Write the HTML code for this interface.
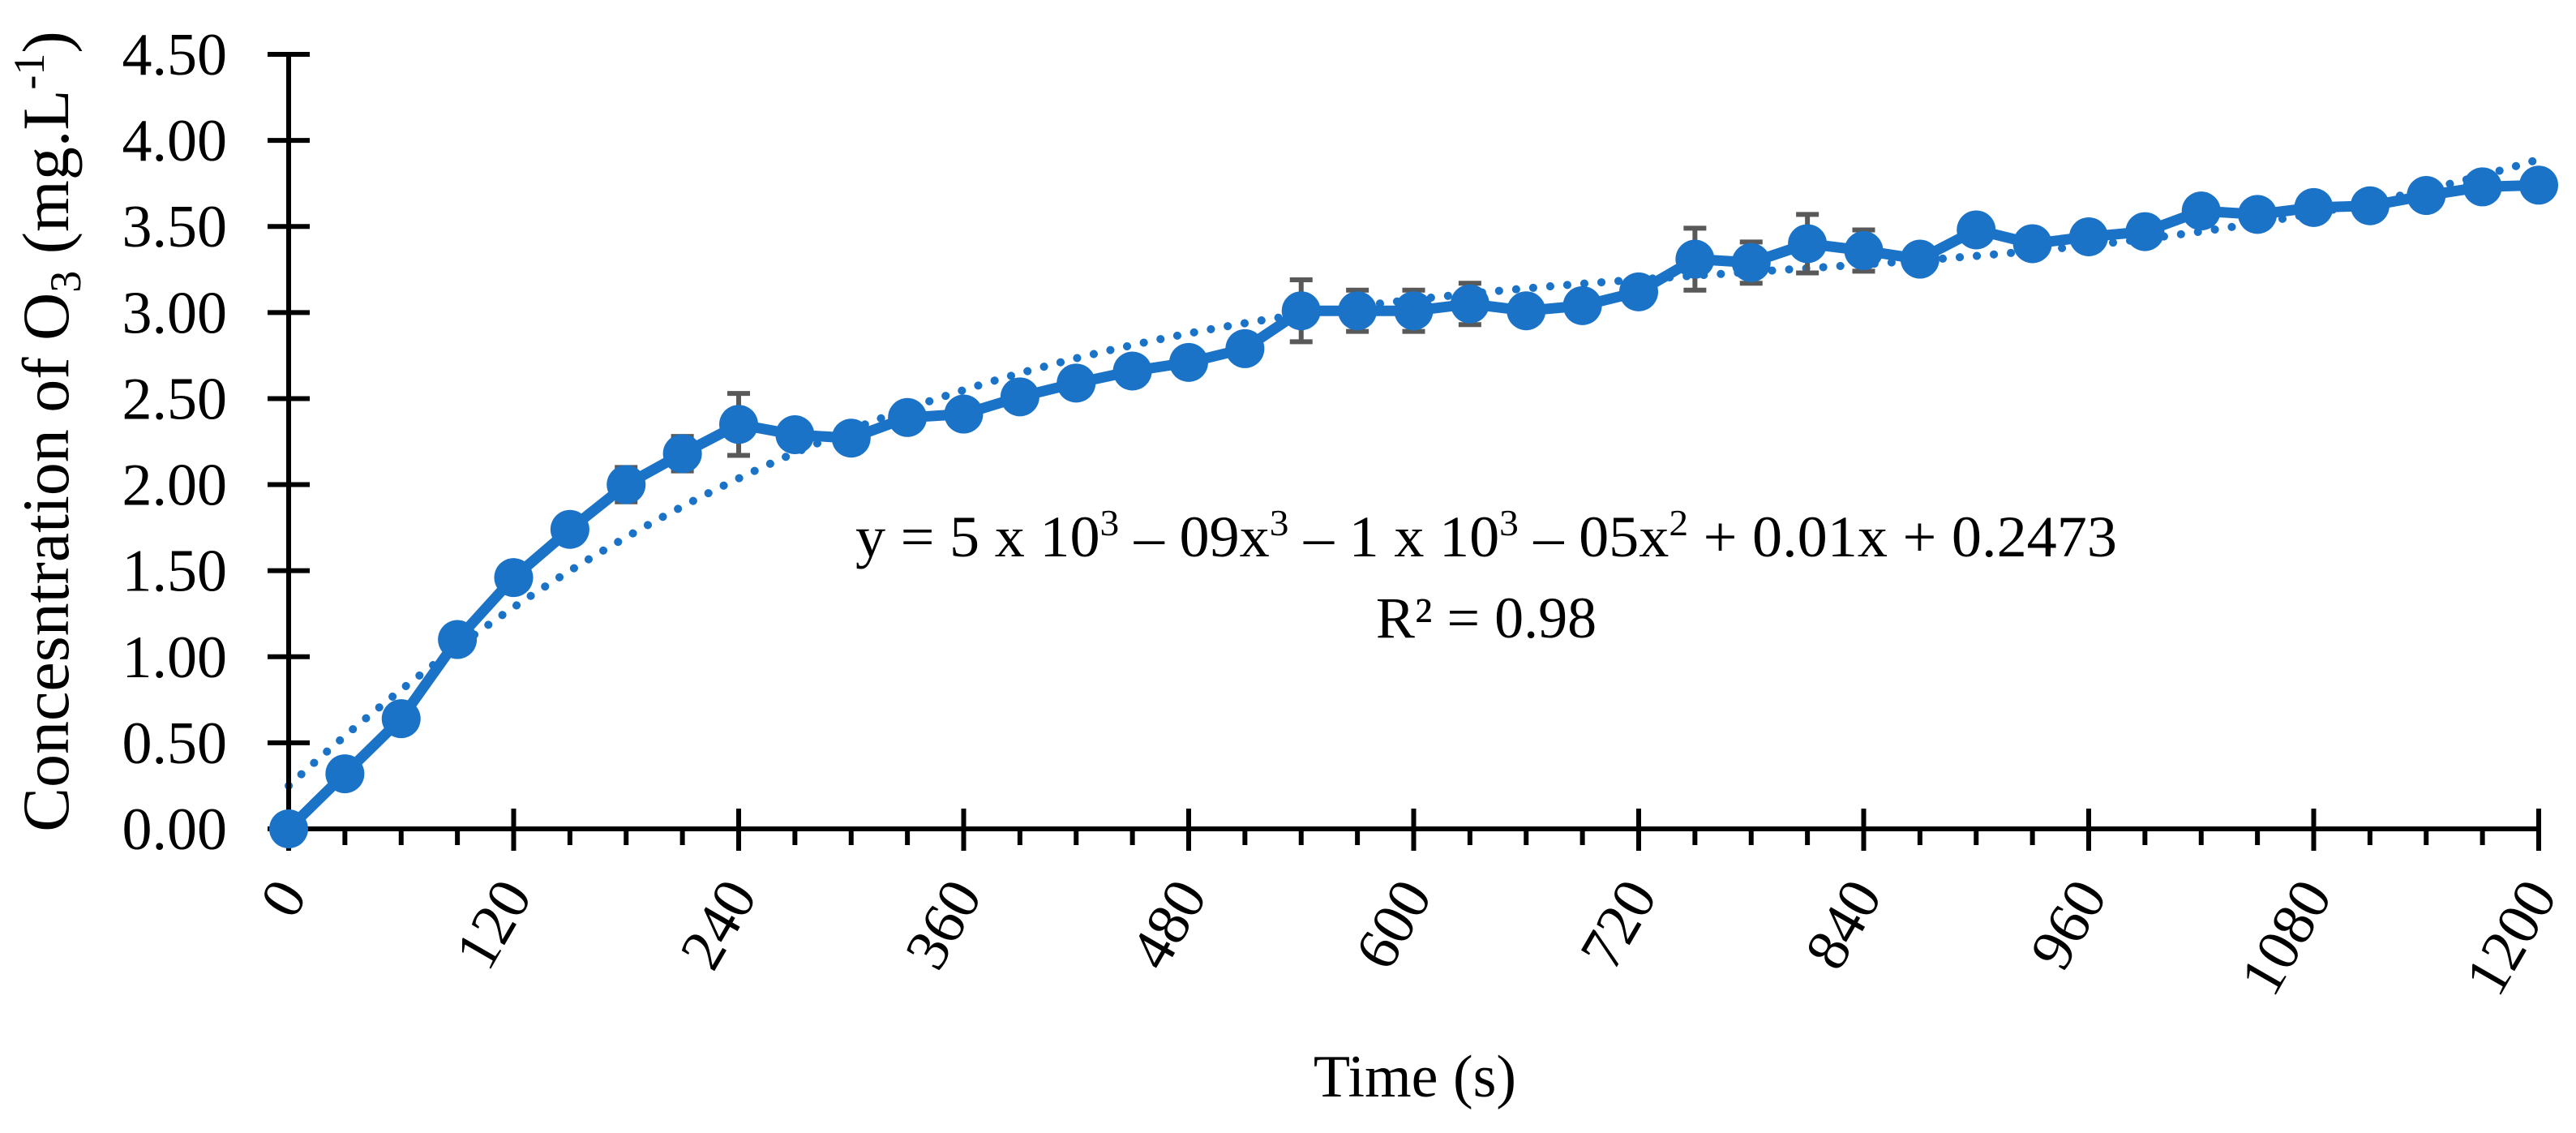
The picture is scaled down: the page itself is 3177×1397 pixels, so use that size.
<!DOCTYPE html>
<html><head><meta charset="utf-8"><style>
html,body{margin:0;padding:0;background:#fff;}
svg{display:block;font-family:"Liberation Serif",serif;}
</style></head><body>
<svg id="chart" width="3177" height="1397" viewBox="0 0 3177 1397" xmlns="http://www.w3.org/2000/svg">
<g id="grid"></g>
</svg>
<script>
const times=[0,30,60,90,120,150,180,210,240,270,300,330,360,390,420,450,480,510,540,570,600,630,660,690,720,750,780,810,840,870,900,930,960,990,1020,1050,1080,1110,1140,1170,1200];
const values=[0,0.32,0.64,1.10,1.46,1.74,2.00,2.18,2.35,2.29,2.27,2.39,2.41,2.51,2.59,2.66,2.71,2.79,3.01,3.01,3.01,3.05,3.01,3.04,3.12,3.31,3.29,3.40,3.36,3.31,3.48,3.40,3.44,3.47,3.59,3.57,3.61,3.62,3.68,3.73,3.74];
const errors=[0,0,0,0,0,0,0.1,0.1,0.18,0,0,0,0,0,0,0,0,0,0.18,0.12,0.12,0.12,0,0,0,0.18,0.12,0.17,0.12,0,0,0,0,0,0,0,0,0,0,0,0];
const yTicks=[0,0.5,1,1.5,2,2.5,3,3.5,4,4.5];
const xTicks=[0,120,240,360,480,600,720,840,960,1080,1200];
const NS="http://www.w3.org/2000/svg";
const svg=document.getElementById('chart');
const X0=356,X1=3131,Y0=1022,Y1=67;
const sx=t=>X0+(t/1200)*(X1-X0);
const sy=v=>Y0-(v/4.5)*(Y0-Y1);
function mk(tag,attrs,parent){const e=document.createElementNS(NS,tag);for(const k in attrs)e.setAttribute(k,attrs[k]);(parent||svg).appendChild(e);return e;}
const blue="#1b73c8";
function fit(){const n=4;const A=[];for(let i=0;i<n;i++){A.push(new Array(n+1).fill(0));}
for(let k=0;k<times.length;k++){const t=times[k]/1000;for(let i=0;i<n;i++){for(let j=0;j<n;j++)A[i][j]+=Math.pow(t,i+j);A[i][n]+=values[k]*Math.pow(t,i);}}
for(let i=0;i<n;i++){let p=i;for(let r=i+1;r<n;r++)if(Math.abs(A[r][i])>Math.abs(A[p][i]))p=r;[A[i],A[p]]=[A[p],A[i]];for(let r=0;r<n;r++){if(r===i)continue;const f=A[r][i]/A[i][i];for(let c=i;c<=n;c++)A[r][c]-=f*A[i][c];}}
return A.map((row,i)=>row[n]/row[i]);}
const co=fit();
let d="";for(let t=0;t<=1200;t+=5){const u=t/1000;const v=co[0]+co[1]*u+co[2]*u*u+co[3]*u*u*u;d+=(t?"L":"M")+sx(t).toFixed(1)+","+sy(v).toFixed(1);}
const trend=mk('path',{d:d,fill:'none',stroke:blue,'stroke-width':10,'stroke-dasharray':'0.1 21','stroke-linecap':'round'});


const ya=mk('line',{x1:X0,y1:Y1,x2:X0,y2:Y0,stroke:'#000','stroke-width':6});


const xa=mk('line',{x1:X0,y1:Y0,x2:X1+3,y2:Y0,stroke:'#000','stroke-width':6});


yTicks.forEach(v=>{
 const l=mk('line',{x1:X0-26,x2:X0+26,y1:sy(v),y2:sy(v),stroke:'#000','stroke-width':6});
 
 
 const tx=mk('text',{x:280,y:sy(v)+25,'text-anchor':'end','font-size':74});
 tx.textContent=v.toFixed(2);
 
 
});
for(let t=30;t<=1200;t+=30){if(t%120===0)continue;
 const l=mk('line',{x1:sx(t),x2:sx(t),y1:Y0,y2:Y0+20,stroke:'#000','stroke-width':6});
 
 }
xTicks.forEach(t=>{
 const l=mk('line',{x1:sx(t),x2:sx(t),y1:Y0-25,y2:Y0+27,stroke:'#000','stroke-width':6});
 
 
 const tx=mk('text',{x:0,y:0,'text-anchor':'end','font-size':74,transform:`translate(${sx(t)+24},${Y0+82}) rotate(-60)`});
 tx.textContent=String(t);
 
 
});
times.forEach((t,i)=>{if(!errors[i])return;
 const x=sx(t),a=sy(values[i]+errors[i]),b=sy(values[i]-errors[i]);
 const g=mk('path',{d:`M${x},${a}V${b}M${x-14},${a}H${x+14}M${x-14},${b}H${x+14}`,stroke:'#595959','stroke-width':6,fill:'none'});
 
 
});
const ln=mk('polyline',{points:times.map((t,i)=>sx(t)+','+sy(values[i])).join(' '),fill:'none',stroke:blue,'stroke-width':13,'stroke-linejoin':'round'});


times.forEach((t,i)=>{
 const c=mk('circle',{cx:sx(t),cy:sy(values[i]),r:24,fill:blue});
 
 
});
</script>
<svg style="position:absolute;left:0;top:0" width="3177" height="1397" xmlns="http://www.w3.org/2000/svg" font-family="Liberation Serif, serif">
<text transform="translate(84,532) rotate(-90)" text-anchor="middle" font-size="82">Concesntration of O<tspan font-size="54" dy="15">3</tspan><tspan dy="-15"> (mg.L</tspan><tspan font-size="54" dy="-30">-1</tspan><tspan dy="30">)</tspan></text>
<text x="1745" y="1352" text-anchor="middle" font-size="74">Time (s)</text>
<text x="1055" y="686" font-size="72" textLength="1556" lengthAdjust="spacingAndGlyphs">y = 5 x 10<tspan font-size="46" dy="-26">3</tspan><tspan dy="26"> – 09x</tspan><tspan font-size="46" dy="-26">3</tspan><tspan dy="26"> – 1 x 10</tspan><tspan font-size="46" dy="-26">3</tspan><tspan dy="26"> – 05x</tspan><tspan font-size="46" dy="-26">2</tspan><tspan dy="26"> + 0.01x + 0.2473</tspan></text>
<text x="1833" y="786" text-anchor="middle" font-size="72">R² = 0.98</text>
</svg>
</body></html>
